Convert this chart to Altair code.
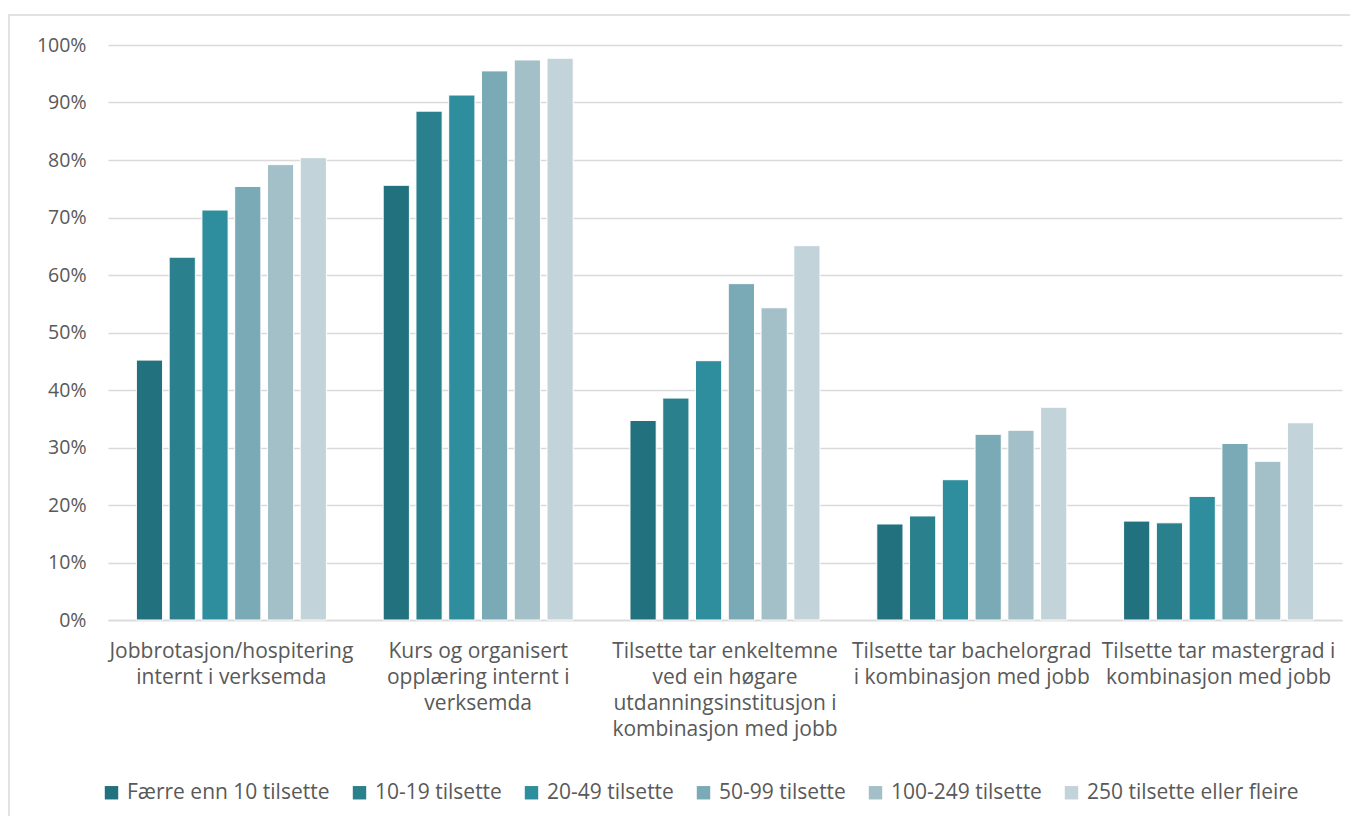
import altair as alt
import pandas as pd

categories = [
    "Jobbrotasjon/hospitering\ninternt i verksemda",
    "Kurs og organisert\nopplæring internt i\nverksemda",
    "Tilsette tar enkeltemne\nved ein høgare\nutdanningsinstitusjon i\nkombinasjon med jobb",
    "Tilsette tar bachelorgrad\ni kombinasjon med jobb",
    "Tilsette tar mastergrad i\nkombinasjon med jobb",
]
series = [
    "Færre enn 10 tilsette",
    "10-19 tilsette",
    "20-49 tilsette",
    "50-99 tilsette",
    "100-249 tilsette",
    "250 tilsette eller fleire",
]
values = [
    [45.2, 63.1, 71.3, 75.4, 79.2, 80.4],
    [75.6, 88.5, 91.3, 95.5, 97.4, 97.7],
    [34.7, 38.6, 45.1, 58.5, 54.3, 65.1],
    [16.7, 18.1, 24.4, 32.3, 33.0, 37.0],
    [17.2, 16.9, 21.5, 30.7, 27.6, 34.3],
]
colors = ["#21717E", "#2A818D", "#2E8E9D", "#7AAAB5", "#A3C0C8", "#C2D4DA"]

rows = []
for ci, cat in enumerate(categories):
    for si, s in enumerate(series):
        rows.append({"kategori": cat, "gruppe": s, "verdi": values[ci][si] / 100})
df = pd.DataFrame(rows)

FONT = "Open Sans"
TXT = "#595959"
FSY = 19.5
FSX = 21

bars = alt.Chart(df).mark_bar(stroke="white", strokeWidth=1).encode(
    x=alt.X("kategori:N", sort=categories, title=None,
            scale=alt.Scale(paddingInner=0.23, paddingOuter=0.115),
            axis=alt.Axis(labelAngle=0, labelExpr="split(datum.label, '\\n')",
                          labelFontSize=FSX, labelColor=TXT, labelFont=FONT,
                          labelLineHeight=26, labelPadding=20, ticks=False,
                          domainColor="#D9D9D9", domainWidth=1.5, labelLimit=300)),
    xOffset=alt.XOffset("gruppe:N", sort=series,
                        scale=alt.Scale(paddingInner=0.2, paddingOuter=0)),
    y=alt.Y("verdi:Q", title=None,
            scale=alt.Scale(domain=[0, 1], nice=False),
            axis=alt.Axis(format=".0%", values=[i / 10 for i in range(11)],
                          labelFontSize=FSY, labelColor=TXT, labelFont=FONT,
                          labelPadding=22, ticks=False, domain=False,
                          gridColor="#D9D9D9", gridWidth=1.5)),
    color=alt.Color("gruppe:N", sort=series, title=None,
                    scale=alt.Scale(domain=series, range=colors),
                    legend=alt.Legend(orient="none", direction="horizontal",
                                      legendX=-7, legendY=737,
                                      symbolType="square", symbolSize=180,
                                      symbolStrokeWidth=0,
                                      labelFontSize=FSX, labelColor=TXT, labelFont=FONT,
                                      columnPadding=19, labelOffset=5,
                                      labelLimit=400)),
)

border = alt.Chart(pd.DataFrame({"a": [0]})).mark_rect(
    fill=None, stroke="#D9D9D9", strokeWidth=1.5
).encode(x=alt.value(-99), x2=alt.value(1400), y=alt.value(-30), y2=alt.value(900))

chart = alt.layer(border, bars).properties(
    width=1234, height=575,
    autosize=alt.AutoSizeParams(type="none"),
    padding={"left": 100, "top": 37, "right": 8, "bottom": 196},
).configure_view(stroke=None)

chart.save("out.html", embed_options={"renderer": "svg", "actions": False})
